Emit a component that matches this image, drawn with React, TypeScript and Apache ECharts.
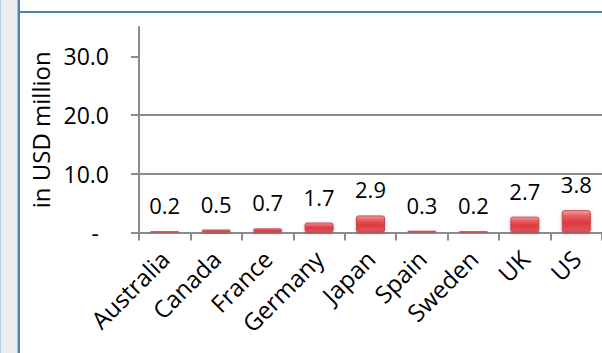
import React, { useEffect, useRef } from "react";
import * as echarts from "echarts";

const categories = ["Australia", "Canada", "France", "Germany", "Japan", "Spain", "Sweden", "UK", "US"];
const values = [0.2, 0.5, 0.7, 1.7, 2.9, 0.3, 0.2, 2.7, 3.8];
const yTicks = [0, 10, 20, 30];
const yAxisTitle = "in USD million";

const FONT = "'Open Sans', sans-serif";

export default function App() {
  const ref = useRef<HTMLDivElement>(null);
  useEffect(() => {
    if (!ref.current) return;
    const chart = echarts.init(ref.current, undefined, { renderer: "svg" });
    const axisColor = "#8c8c8c";
    chart.setOption({
      animation: false,
      backgroundColor: "#ffffff",
      textStyle: { fontFamily: FONT },
      grid: { left: 139, right: 0, top: 27, bottom: 120.5, containLabel: false },
      xAxis: {
        type: "category",
        data: categories,
        axisLine: { lineStyle: { color: axisColor, width: 2 } },
        axisTick: { show: true, length: 8, lineStyle: { color: axisColor, width: 2 } },
        axisLabel: {
          rotate: 45,
          interval: 0,
          margin: 22,
          color: "#000",
          fontSize: 24,
          fontFamily: FONT,
        },
        splitLine: { show: false },
      },
      yAxis: {
        type: "value",
        min: 0,
        max: 35,
        interval: 10,
        name: yAxisTitle,
        nameLocation: "middle",
        nameRotate: 90,
        nameGap: 86,
        nameTextStyle: { color: "#000", fontSize: 24, fontFamily: FONT },
        axisLine: { show: true, lineStyle: { color: axisColor, width: 2 } },
        axisTick: {
          show: true,
          length: 8,
          customValues: yTicks,
          lineStyle: { color: axisColor, width: 2 },
        },
        axisLabel: {
          customValues: yTicks,
          margin: 30,
          color: "#000",
          fontSize: 23,
          fontFamily: FONT,
          formatter: (v: number) => (v === 0 ? "{d|-}" : v.toFixed(1)),
          rich: { d: { fontSize: 23, fontFamily: FONT, color: "#000", padding: [0, 10, 0, 0] } },
        },
        splitLine: {
          show: true,
          showMaxLine: false,
          lineStyle: { color: axisColor, width: 2 },
        },
      },
      series: [
        {
          type: "bar",
          data: values,
          barWidth: 29,
          itemStyle: {
            color: new echarts.graphic.LinearGradient(0, 0, 0, 1, [
              { offset: 0, color: "#f4a6a6" },
              { offset: 0.2, color: "#eb6669" },
              { offset: 0.55, color: "#db3a40" },
              { offset: 1, color: "#e2555a" },
            ]),
            borderColor: "#c9474b",
            borderWidth: 1,
            borderRadius: 2,
            shadowColor: "rgba(0,0,0,0.3)",
            shadowBlur: 3,
            shadowOffsetY: 1,
          },
          label: {
            show: true,
            position: "top",
            distance: 15,
            color: "#000",
            fontSize: 22,
            fontFamily: FONT,
            formatter: (p: any) => Number(p.value).toFixed(1),
          },
        },
      ],
      graphic: [
        { type: "rect", z: 100, shape: { x: 0, y: 0, width: 17, height: 353 }, style: { fill: "#ececec" } },
        { type: "rect", z: 100, shape: { x: 0, y: 0, width: 1, height: 353 }, style: { fill: "#b7cbe6" } },
        { type: "rect", z: 100, shape: { x: 17, y: 0, width: 1, height: 353 }, style: { fill: "#a9c1e1" } },
        { type: "rect", z: 100, shape: { x: 18, y: 0, width: 2, height: 353 }, style: { fill: "#4f81bd" } },
        { type: "rect", z: 100, shape: { x: 18, y: 11, width: 584, height: 2 }, style: { fill: "#4f81bd" } },
      ],
    });
    return () => chart.dispose();
  }, []);
  return (
    <div
      ref={ref}
      style={{ position: "fixed", left: 0, top: 0, width: 602, height: 353 }}
    />
  );
}
